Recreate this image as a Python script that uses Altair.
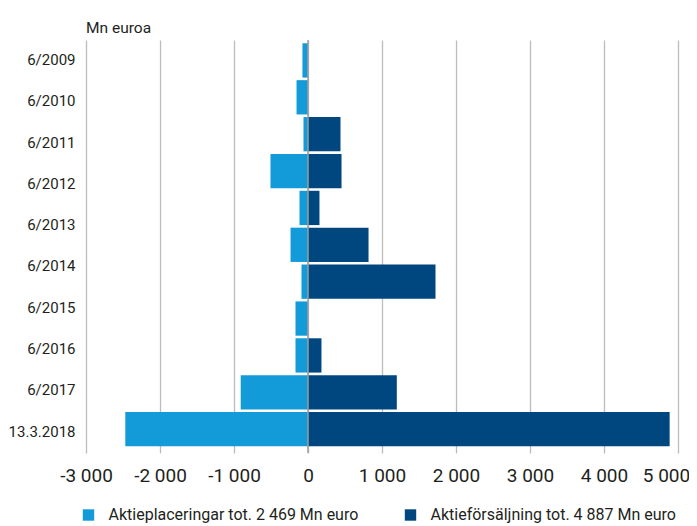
import altair as alt
import pandas as pd

# ---- data ----
period_labels = ["6/2009", "6/2010", "6/2011", "6/2012", "6/2013",
                 "6/2014", "6/2015", "6/2016", "6/2017", "13.3.2018"]
bar_slots = list(range(1, 12))
placements = [-75, -155, -61, -507, -115, -236, -88, -169, -169, -909, -2469]
sales = [0, 0, 439, 453, 155, 818, 1723, 0, 182, 1200, 4887]
series_names = ["Aktieplaceringar tot. 2 469 Mn euro",
                "Aktieförsäljning tot. 4 887 Mn euro"]
series_colors = ["#129bd8", "#00477f"]
x_ticks = [-3000, -2000, -1000, 0, 1000, 2000, 3000, 4000, 5000]
zero_line = [0]

rows = []
for s, p, v in zip(bar_slots, placements, sales):
    rows.append({"slot": s, "series": series_names[0], "value": p})
    rows.append({"slot": s, "series": series_names[1], "value": v})
bars_df = pd.DataFrame(rows)
labels_df = pd.DataFrame({"label": period_labels})
zero_df = pd.DataFrame({"z": zero_line})

FONT = "Roboto"
TEXT = "#231f20"

xscale = alt.Scale(domain=[-3000, 5000], nice=False, zero=False)

bars = alt.Chart(bars_df).mark_bar().encode(
    x=alt.X("value:Q", stack=None, scale=xscale,
            axis=alt.Axis(values=x_ticks, grid=True, gridColor="#bcbcbc", gridWidth=1.3,
                          ticks=False, domain=False, title=None,
                          labelOverlap=False, labelFlush=False,
                          labelOffset={"condition": {"test": "datum.value >= 5000", "value": -12},
                                       "value": 0},
                          labelFontSize=19, labelPadding=13, labelColor=TEXT,
                          labelExpr="(datum.value < 0 ? '-' : '') + replace(format(abs(datum.value), ','), ',', ' ')")),
    y=alt.Y("slot:O", axis=None,
            scale=alt.Scale(paddingInner=0.07, paddingOuter=0.135, align=0.33)),
    color=alt.Color("series:N",
                    scale=alt.Scale(domain=series_names, range=series_colors),
                    legend=alt.Legend(title=None, orient="none", direction="horizontal",
                                      legendX=-5.5, legendY=467,
                                      symbolType="square", symbolSize=130,
                                      symbolStrokeWidth=0, symbolOpacity=1,
                                      labelFontSize=16, labelColor=TEXT,
                                      labelOffset=12, columnPadding=44,
                                      labelLimit=400)),
)

zero = alt.Chart(zero_df).mark_rule(color="#9e9e9e", strokeWidth=1.5).encode(
    x=alt.X("z:Q", scale=xscale)
)

labels = alt.Chart(labels_df).mark_point(opacity=0).encode(
    y=alt.Y("label:N", sort=period_labels,
            scale=alt.Scale(type="point", padding=0.5, align=0.47),
            axis=alt.Axis(orient="left", title=None, ticks=False, tickSize=0,
                          domain=False, labelFontSize=15, labelPadding=11,
                          labelColor=TEXT, labelLimit=200))
)

chart = alt.layer(bars, zero, labels).resolve_scale(y="independent").properties(
    width=592,
    height=413,
    title=alt.TitleParams("Mn euroa", anchor="start", frame="group",
                          fontSize=15.5, fontWeight="normal", color=TEXT,
                          baseline="alphabetic", offset=12, dy=21, font=FONT),
    autosize=alt.AutoSizeParams(type="none"),
    padding={"left": 78, "top": 32, "right": 11, "bottom": 73},
    background="white",
).configure(font=FONT).configure_view(stroke=None)

chart.save("out.html", embed_options={"renderer": "svg", "actions": False})
